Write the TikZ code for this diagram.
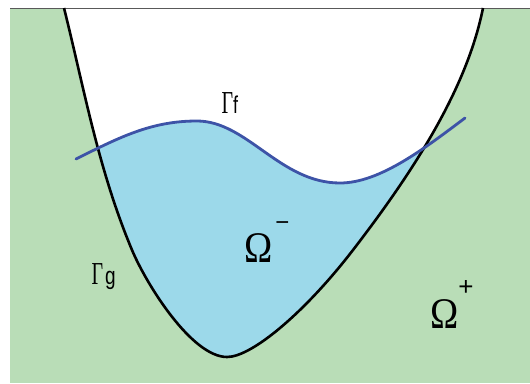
\documentclass[tikz,border=0pt]{standalone}
\usepackage{fontspec}
\setmainfont{Liberation Serif}
\newfontfamily\sansf{Liberation Sans}
\definecolor{bggreen}{HTML}{B9DDB7}
\definecolor{fillblue}{HTML}{9CD9EA}
\definecolor{curveblue}{HTML}{3D53A7}
\tikzset{
  lbl/.style={inner sep=0pt, outer sep=0pt},
  gcurve/.style={line width=2.6pt, black},
  fcurve/.style={line width=2.8pt, curveblue, line cap=round}
}
\newcommand{\gammag}{(64,8) .. controls (84,88) and (98.4,170) .. (132,250)
  .. controls (146.7,285) and (192,357) .. (227,357)
  .. controls (252,357) and (305.3,312) .. (353,250)
  .. controls (414.6,170) and (467,88) .. (483,8)}
\newcommand{\gammaf}{(76,159) .. controls (121,136.5) and (152,121) .. (197,121)
  .. controls (247,121) and (280,183) .. (340,183)
  .. controls (380,183) and (425,148) .. (465,118)}
\begin{document}
\begin{tikzpicture}[x=1pt,y=-1pt]
\useasboundingbox (0,0) rectangle (530,383);
% background
\fill[bggreen] (10,8) rectangle (530,383);
% inside of Gamma_g (white)
\fill[white] \gammag -- cycle;
% Omega^- region
\begin{scope}
  \clip \gammag -- cycle;
  \clip \gammaf -- (530,118) -- (530,383) -- (0,383) -- (0,159) -- cycle;
  \fill[fillblue] (0,0) rectangle (530,383);
\end{scope}
% top rule
\draw[line width=1pt, black!65] (10,8) -- (530,8);
% Gamma_g
\draw[gcurve] \gammag;
% Gamma_f
\draw[fcurve] \gammaf;
% labels
\node[lbl, anchor=base west] (lf) at (221.5,113) {\scalebox{1}[1.6]{\fontsize{20}{20}\selectfont Γ}\scalebox{1}[1.35]{\fontsize{18}{18}\selectfont\sansf f}};
\node[lbl, anchor=base west] (lg) at (91.5,284) {\scalebox{1}[1.6]{\fontsize{20}{20}\selectfont Γ}\hspace{2pt}\scalebox{1}[1.3]{\fontsize{19}{19}\selectfont\sansf g}};
\node[lbl, anchor=base] (om) at (259,262) {\scalebox{1}[1.15]{\fontsize{38}{38}\selectfont Ω}};
\node[lbl, anchor=base] (omm) at (282.5,230.5) {\fontsize{24}{24}\selectfont\sansf −};
\node[lbl, anchor=base] (op) at (444.5,328.5) {\scalebox{1}[1.15]{\fontsize{38}{38}\selectfont Ω}};
\node[lbl, anchor=base] (opp) at (466,295) {\fontsize{26}{26}\selectfont\sansf +};
\end{tikzpicture}
\end{document}
